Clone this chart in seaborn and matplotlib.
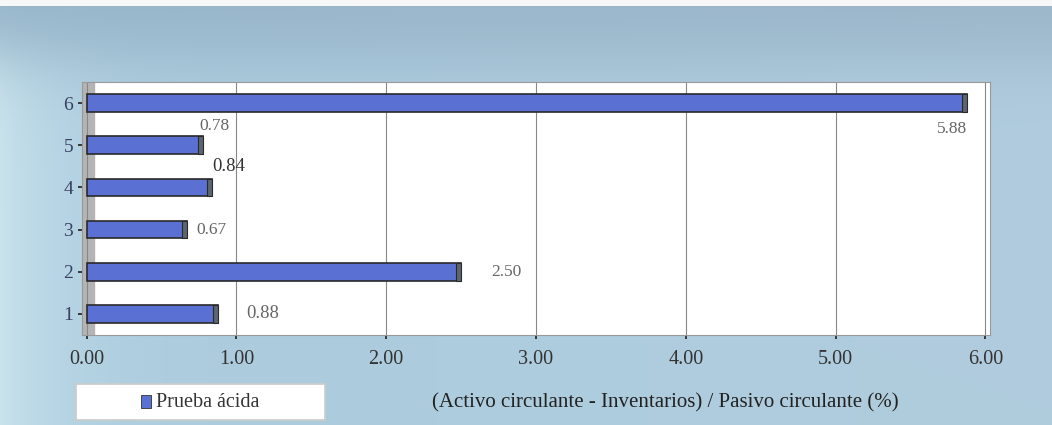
import numpy as np
import pandas as pd
import seaborn as sns
import matplotlib.pyplot as plt
from matplotlib.patches import Rectangle

# data
periodos = ['1', '2', '3', '4', '5', '6']
prueba_acida = [0.88, 2.50, 0.67, 0.84, 0.78, 5.88]
etiquetas = ['0.88', '2.50', '0.67', '0.84', '0.78', '5.88']
x_ticks = [0, 1, 2, 3, 4, 5, 6]
x_ticklabels = ['0.00', '1.00', '2.00', '3.00', '4.00', '5.00', '6.00']

df = pd.DataFrame({'periodo': periodos, 'valor': prueba_acida})

sns.set_theme(style='white')
plt.rcParams['font.family'] = ['Liberation Serif', 'DejaVu Serif']

fig = plt.figure(figsize=(10.52, 4.25), dpi=100)

# scanned blue background (smooth gradient)
bg = fig.add_axes([0, 0, 1, 1], zorder=-10)
h, w = 425, 1052
yy = np.linspace(0, 1, h)[:, None]
xx = np.linspace(0, 1, w)[None, :]
top = 1 / (1 + np.exp((yy - 0.13) / 0.05))
left = np.exp(-xx / 0.06) * (1 - top)
r = 0.67 - 0.08 * top + 0.12 * left + 0.02 * xx
g = 0.80 - 0.09 * top + 0.09 * left + 0.0 * xx
b = 0.87 - 0.08 * top + 0.06 * left + 0.0 * xx
img = np.dstack([r, g, b])
img[:6, :, :] = 0.97
bg.imshow(np.clip(img, 0, 1), aspect='auto', extent=[0, 1, 0, 1])
bg.axis('off')

ax = fig.add_axes([0.078, 0.212, 0.863, 0.595])
ax.set_facecolor('white')

sns.barplot(data=df, y='periodo', x='valor', order=periodos[::-1], orient='h',
            color='#5a70d2', edgecolor='#2a2a2a', linewidth=1.2, width=0.42,
            saturation=1, ax=ax)

# darker end cap on each bar
for p in ax.patches:
    ax.add_patch(Rectangle((p.get_x() + p.get_width() - 0.035, p.get_y()), 0.035,
                           p.get_height(), facecolor='#5c6670', edgecolor='#2a2a2a',
                           linewidth=0.8, zorder=3))

# gray depth wall on the left
ax.axvspan(-0.03, 0.05, color='#b4b4b4', zorder=0.5)

ax.set_xlim(-0.03, 6.03)
ax.set_ylim(5.5, -0.5)
ax.set_xticks(x_ticks)
ax.set_xticklabels(x_ticklabels, fontsize=14.5, color='#333333')
ax.tick_params(axis='y', labelsize=14, labelcolor='#3a4060', length=3, left=True)
ax.tick_params(axis='x', length=3, bottom=True, pad=8)
ax.xaxis.grid(True, color='#888888', linewidth=0.8)
ax.set_axisbelow(True)
for s in ax.spines.values():
    s.set_color('#999999')
    s.set_linewidth(0.8)
ax.set_xlabel('')
ax.set_ylabel('')

# value labels (placement as in the original)
offs = {'1': (20, 0, 'left', 'center'), '2': (22, 0, 'left', 'center'),
        '3': (7, 0, 'left', 'center'), '4': (12, 15, 'center', 'center'),
        '5': (8, 14, 'center', 'center'), '6': (0, -19, 'right', 'center')}
for per, val, lab in zip(periodos, prueba_acida, etiquetas):
    dx, dy, ha, va = offs[per]
    ypos = periodos[::-1].index(per)
    ax.annotate(lab, (val, ypos), xytext=(dx, dy), textcoords='offset points',
                ha=ha, va=va, fontsize=13.5 if per in ('1', '4') else 12.5,
                color='#333333' if per == '4' else '#666666')

# legend box
lax = fig.add_axes([0.072, 0.012, 0.237, 0.085])
lax.set_xlim(0, 1)
lax.set_ylim(0, 1)
lax.set_facecolor('white')
for s in lax.spines.values():
    s.set_color('#cccccc')
lax.set_xticks([])
lax.set_yticks([])
lax.add_patch(Rectangle((0.26, 0.33), 0.04, 0.36, facecolor='#5a70d2', edgecolor='#333333', linewidth=0.6))
lax.text(0.32, 0.48, 'Prueba ácida', fontsize=14.5, va='center', ha='left', color='#333333')

fig.text(0.632, 0.052, '(Activo circulante - Inventarios) / Pasivo circulante (%)',
         fontsize=15, ha='center', va='center', color='#222222')

fig.savefig('out.png', dpi=100)
